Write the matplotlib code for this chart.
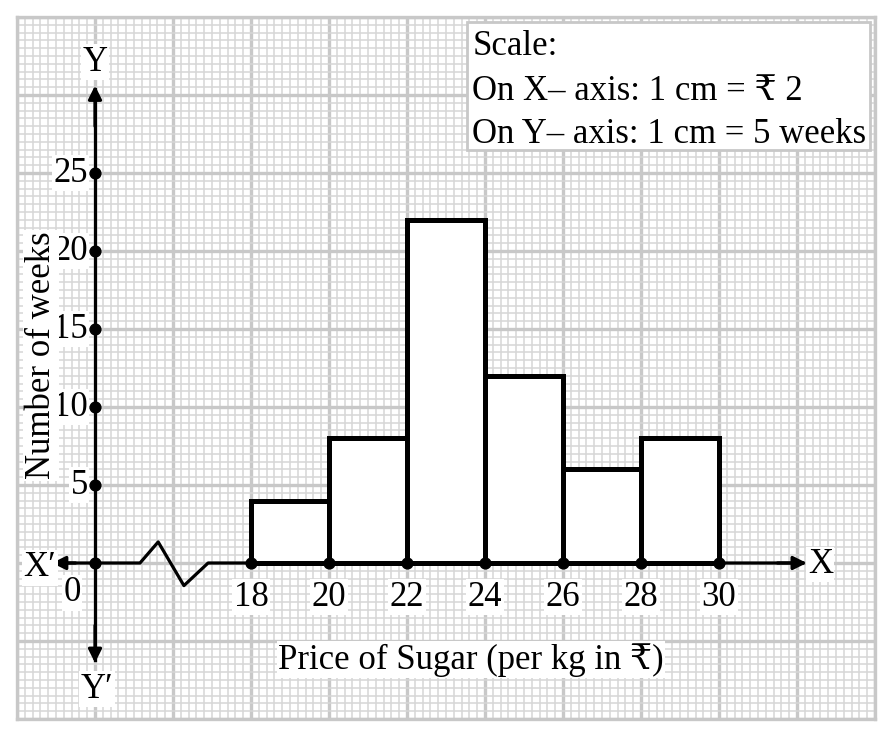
import matplotlib
matplotlib.use('Agg')
import matplotlib.pyplot as plt
from matplotlib.patches import Rectangle
import numpy as np

# data
price_edges = [18, 20, 22, 24, 26, 28, 30]
weeks = [4, 8, 22, 12, 6, 8]
y_ticks = [5, 10, 15, 20, 25]
x_label = 'Price of Sugar (per kg in ₹)'
y_label = 'Number of weeks'
scale_lines = ['Scale:', 'On X\u2013 axis: 1 cm = ₹ 2', 'On Y\u2013 axis: 1 cm = 5 weeks']

plt.rcParams['font.family'] = ['Liberation Serif', 'DejaVu Serif', 'DejaVu Sans']
fs = 25

# 1 cm = 2 rupees on x, 5 weeks on y ; origin drawn at 14 (broken axis)
x0 = 14
fig = plt.figure(figsize=(8.94, 7.38), dpi=100)
ax = fig.add_axes([17 / 894, 19 / 738, 858 / 894, 702 / 738])
ax.set_xlim(12, 34)
ax.set_ylim(-10, 35)

# graph paper
ax.set_xticks(np.arange(12, 34.01, 2))
ax.set_xticks(np.arange(12, 34.01, 0.2), minor=True)
ax.set_yticks(np.arange(-10, 35.01, 5))
ax.set_yticks(np.arange(-10, 35.01, 0.5), minor=True)
ax.grid(which='minor', color='#d6d6d6', lw=1.1, zorder=0)
ax.grid(which='major', color='#c8c8c8', lw=2.4, zorder=0)
ax.tick_params(which='both', length=0, labelbottom=False, labelleft=False)
for s in ax.spines.values():
    s.set_color('#c8c8c8')
    s.set_linewidth(2.4)
ax.set_axisbelow(True)

box = dict(facecolor='white', edgecolor='none', pad=1)

# bars
ax.bar(price_edges[:-1], weeks, width=np.diff(price_edges), align='edge',
       color='white', edgecolor='black', lw=3.6, zorder=4)

# axes lines
sq_x = [x0 + 2 * c for c in [0.577, 0.81, 1.14, 1.45]]
sq_y = [0, 1.35, -1.45, 0]
ax.plot([12.97] + [x0] + sq_x + [32.15], [0, 0] + sq_y + [0], color='black', lw=2.3, zorder=3)
ax.plot([x0, x0], [-6.2, 30.4], color='black', lw=2.3, zorder=3)
arr = dict(arrowstyle='-|>', color='black', lw=2.3, mutation_scale=20, shrinkA=0, shrinkB=0)
ax.annotate('', xy=(x0, 30.6), xytext=(x0, 28), arrowprops=arr, zorder=5)
ax.annotate('', xy=(x0, -6.4), xytext=(x0, -4), arrowprops=arr, zorder=5)
ax.annotate('', xy=(12.9, 0), xytext=(13.5, 0), arrowprops=arr, zorder=5)
ax.annotate('', xy=(32.25, 0), xytext=(31.5, 0), arrowprops=arr, zorder=5)

# dots
ax.scatter(price_edges, [0] * len(price_edges), s=60, color='black', zorder=6)
ax.scatter([x0] * (len(y_ticks) + 1), [0] + y_ticks, s=60, color='black', zorder=6)

# tick labels
for p in price_edges:
    ax.text(p, -2.2, str(p), ha='center', va='center', fontsize=fs, bbox=box, zorder=7)
for w in y_ticks:
    ax.text(13.82, w, str(w), ha='right', va='center', fontsize=fs, bbox=box, zorder=7)
ax.text(13.41, -1.9, '0', ha='center', va='center', fontsize=fs, bbox=box, zorder=7)
ax.text(12.59, -0.3, 'X\u2032', ha='center', va='center', fontsize=fs, bbox=box, zorder=7)
ax.text(32.6, -0.1, 'X', ha='center', va='center', fontsize=fs, bbox=box, zorder=7)
ax.text(x0, 32.1, 'Y', ha='center', va='center', fontsize=fs, bbox=box, zorder=7)
ax.text(x0 + 0.05, -8.1, 'Y\u2032', ha='center', va='center', fontsize=fs, bbox=box, zorder=7)

ax.text(23.64, -6.2, x_label, ha='center', va='center', fontsize=fs, bbox=box, zorder=7)
ax.text(12.62, 13.3, y_label, ha='center', va='center', rotation=90, fontsize=fs, bbox=box, zorder=7)

# scale box
ax.add_patch(Rectangle((23.54, 26.47), 10.33, 8.21, facecolor='white', edgecolor='#c8c8c8', lw=2, zorder=7))
for t, yb in zip(scale_lines, [32.56, 29.7, 26.95]):
    ax.text(23.67, yb, t, ha='left', va='baseline', fontsize=fs, zorder=8)

fig.savefig('out.png', dpi=100)
